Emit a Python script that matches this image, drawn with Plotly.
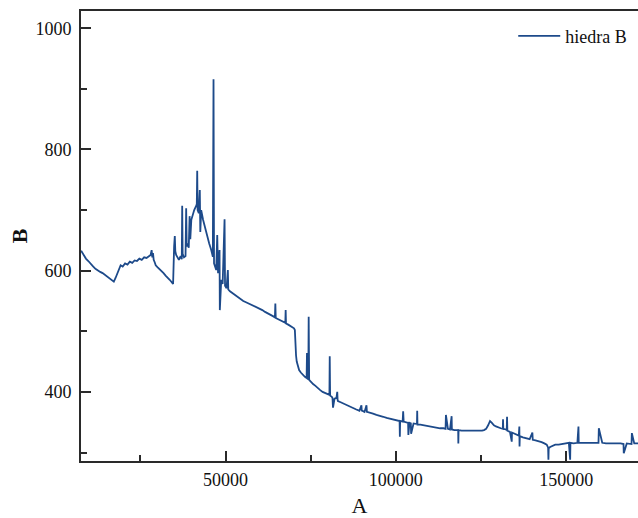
import plotly.graph_objects as go

series_name = "hiedra B"

x_seg1 = [7600, 8300, 9000, 9700, 10400, 11100, 11800, 12500, 13200, 13900, 14600, 15300, 16000, 16700, 17200,
          17700, 18200, 18700, 19200, 19800, 20500, 21200, 21900, 22600, 23300, 24000, 24700, 25400, 26100, 26800,
          27500, 28000, 28300, 28500, 28700, 28900, 29200, 29500, 30000, 30600, 31200, 31800, 32400, 33000, 33600, 34200, 34600]
y_seg1 = [633, 626, 620, 616, 611, 607, 603, 600, 598, 596, 593, 590, 588, 585, 582,
          588, 596, 603, 609, 607, 612, 610, 615, 613, 617, 616, 620, 618, 622, 621,
          624, 626, 634, 622, 629, 618, 614, 609, 606, 603, 599, 596, 592, 589, 585, 581, 578]

x_seg2 = [34900, 35100, 35250, 35500, 35900, 36300, 36800, 37150, 37270, 37400, 37800, 38250, 38440, 38600, 38900,
          39200, 39450, 39650, 39950, 40300, 40800, 41300, 41560, 41680, 41800, 42150, 42440, 42590, 42850, 43400,
          44000, 44600, 45200, 45800, 46270, 46470, 46620, 47260, 47560, 47800, 48240, 48320, 48740, 49150, 49710,
          49850, 50300, 50680, 50800, 51300]
y_seg2 = [640, 657, 632, 626, 622, 618, 624, 619, 707, 628, 622, 624, 703, 640, 645,
          638, 690, 652, 684, 692, 700, 706, 710, 765, 700, 695, 733, 664, 700, 684,
          670, 658, 645, 634, 623, 916, 612, 601, 659, 596, 634, 535, 585, 578, 685,
          575, 571, 601, 569, 566]

x_seg3 = [52000, 52800, 53600, 54400, 55200, 56000, 56800, 57600, 58400, 59200, 60000, 60800, 61600, 62400, 63200,
          63900, 64500, 64620, 64740, 65400, 66200, 67000, 67550, 67650, 67750, 68400, 69000, 69600, 70100, 70350]
y_seg3 = [563, 560, 557, 553, 550, 548, 546, 544, 542, 540, 538, 535, 532, 530, 527,
          525, 523, 546, 522, 520, 518, 516, 514, 535, 513, 511, 509, 507, 505, 502]

x_seg4 = [70500, 70700, 70900, 71200, 71600, 72100, 72700, 73300, 73800, 73910, 74000, 74300, 74410, 74550, 75000,
          75700, 76400, 77100, 77800, 78500, 79200, 79900, 80500, 80590, 80700]
y_seg4 = [478, 460, 450, 442, 436, 432, 428, 425, 423, 464, 422, 421, 524, 420, 417,
          413, 410, 406, 403, 400, 398, 396, 395, 459, 394]

x_seg5 = [81200, 81400, 81550, 82000, 82560, 82800, 82900, 83000, 83800, 84500, 85500, 86500, 87500, 88400, 89300,
          89900, 90000, 90100, 90800, 91380, 91500, 92300, 93300, 94300, 95300, 96300, 97300, 98300, 99300, 100200,
          101100, 101180, 101260, 102000, 102150, 102300, 103000, 103600, 103680, 104000, 104400, 104480, 105200, 106200, 106270,
          106350, 107200, 108000, 109000, 110000, 111000, 112000, 113000, 114000, 114600, 114700, 115300, 115900, 116380, 116450,
          117200, 118300, 118350, 118420, 119300, 120300, 121300, 122300, 123300, 124300, 125300, 125900, 126500, 127100, 127650]
y_seg5 = [392, 390, 374, 389, 390, 400, 387, 385, 383, 381, 378, 376, 373, 371, 369,
          378, 368, 369, 367, 378, 367, 366, 364, 362, 361, 359, 357, 356, 354, 353,
          352, 326, 352, 351, 368, 351, 350, 349, 329, 349, 348, 331, 348, 347, 369,
          346, 346, 345, 344, 343, 342, 341, 340, 340, 339, 362, 339, 338, 360, 338,
          337, 337, 315, 337, 336, 336, 335, 335, 336, 335, 336, 337, 339, 345, 352]

x_seg6 = [128200, 128800, 129400, 130100, 130800, 131400, 131470, 131550, 132300, 132560, 132650, 132750, 133500, 134030, 134100,
          134500, 135300, 136100, 136260, 136320, 136400, 137300, 138400, 139300, 140090, 140200, 141000, 141900, 142800, 143600,
          144300, 144710, 144800, 144880, 145300, 146000, 146800, 147800, 148800, 149800, 150800, 151180, 151260, 152200, 153300,
          153620, 153700, 154800, 156000, 157200, 158400, 159500, 159600, 160600, 161700, 162800, 163900, 165000, 166000, 166850,
          166920, 167800, 168700, 169200, 169300, 170000, 170800, 171500]
y_seg6 = [349, 345, 343, 341, 340, 339, 355, 339, 338, 337, 359, 336, 334, 318, 333,
          332, 330, 328, 343, 310, 327, 325, 324, 322, 333, 321, 320, 319, 317, 315,
          313, 308, 288, 307, 309, 311, 313, 313, 314, 315, 316, 288, 316, 315, 316,
          343, 316, 316, 316, 315, 316, 316, 340, 316, 315, 315, 316, 315, 315, 314,
          299, 315, 315, 314, 332, 315, 315, 315]

x_vals = x_seg1 + x_seg2 + x_seg3 + x_seg4 + x_seg5 + x_seg6
y_vals = y_seg1 + y_seg2 + y_seg3 + y_seg4 + y_seg5 + y_seg6

x_ticks = [50000, 100000, 150000]
y_ticks = [400, 600, 800, 1000]

FONT = "Liberation Serif"
AXIS_COLOR = "#2a2a2a"

fig = go.Figure()
fig.add_trace(go.Scatter(
    x=x_vals, y=y_vals, mode="lines", name=series_name,
    line=dict(color="#1d4a8a", width=1.8),
))

fig.update_layout(
    width=638, height=518,
    margin=dict(l=81, r=0, t=11, b=57),
    paper_bgcolor="white", plot_bgcolor="white",
    font=dict(family=FONT, size=18, color="#111"),
    showlegend=True,
    legend=dict(x=0.776, y=0.985, xanchor="left", yanchor="top", itemwidth=42,
                bgcolor="rgba(0,0,0,0)", font=dict(family=FONT, size=18, color="#111")),
)

fig.update_xaxes(
    range=[7560, 171100], showgrid=False, zeroline=False,
    tickmode="array", tickvals=x_ticks, ticktext=[str(v) for v in x_ticks],
    ticks="inside", ticklen=10, tickwidth=1.5, tickcolor=AXIS_COLOR,
    minor=dict(tickvals=[25000, 75000, 125000], ticks="inside", ticklen=6, tickwidth=1.5, tickcolor=AXIS_COLOR),
    showline=True, linecolor=AXIS_COLOR, linewidth=2, mirror=True,
    ticklabelstandoff=1,
    tickfont=dict(family=FONT, size=18, color="#111"),
    title=dict(text="A", font=dict(family=FONT, size=22, color="#111"), standoff=11),
)
fig.update_yaxes(
    range=[286, 1028.5], showgrid=False, zeroline=False,
    tickmode="array", tickvals=y_ticks, ticktext=[str(v) for v in y_ticks],
    ticks="inside", ticklen=10, tickwidth=1.5, tickcolor=AXIS_COLOR,
    minor=dict(tickvals=[300, 500, 700, 900], ticks="inside", ticklen=6, tickwidth=1.5, tickcolor=AXIS_COLOR),
    showline=True, linecolor=AXIS_COLOR, linewidth=2,
    ticklabelstandoff=4,
    tickfont=dict(family=FONT, size=18, color="#111"),
    title=dict(text="<b>B</b>", font=dict(family=FONT, size=22, color="#111"), standoff=2),
)

fig.write_html("out.html")
